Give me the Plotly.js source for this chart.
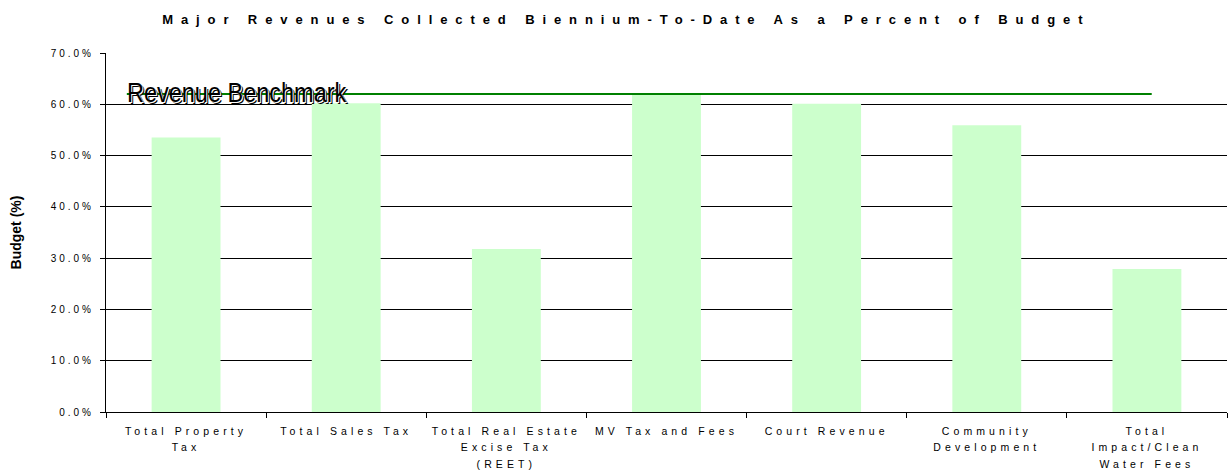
<!DOCTYPE html>
<html>
<head>
<meta charset="utf-8">
<script src="https://cdn.plot.ly/plotly-3.0.1.min.js"></script>
<style>
  html, body { margin: 0; padding: 0; background: #fff; }
  #chart { width: 1228px; height: 474px; }
  .gtitle { letter-spacing: 7.9px; }
  .xtick text { letter-spacing: 4.1px; }
  .ytick text { letter-spacing: 3px; }
  .annotation-text { transform-box: fill-box; transform-origin: 0% 50%; transform: scaleX(0.87); }
</style>
</head>
<body>
<div id="chart"></div>
<script>
// ---- data ----
const categories = [
  "Total Property<br>Tax",
  "Total Sales Tax",
  "Total Real Estate<br>Excise Tax<br>(REET)",
  "MV Tax and Fees",
  "Court Revenue",
  "Community<br>Development",
  "Total<br>Impact/Clean<br>Water Fees"
];
const percentOfBudget = [53.5, 60.2, 31.8, 61.9, 60.1, 55.9, 27.9];
const benchmarkValue = 62.0;
const benchmarkLabel = "Revenue Benchmark";
const chartTitle = "Major Revenues Collected Biennium-To-Date As a Percent of Budget";
const yTitle = "Budget (%)";

const FONT = "Liberation Sans, Arial, sans-serif";

const bars = {
  type: "bar",
  x: categories,
  y: percentOfBudget,
  width: 0.43,
  marker: { color: "#CCFFCC", line: { width: 0 } },
  hoverinfo: "x+y",
  showlegend: false
};

const labelAnn = (dx, dy, color) => ({
  xref: "x", yref: "y",
  x: -0.37, y: benchmarkValue,
  xanchor: "left", yanchor: "middle",
  xshift: dx, yshift: dy,
  showarrow: false,
  text: benchmarkLabel,
  font: { family: FONT, size: 27, color: color }
});

const layout = {
  width: 1228, height: 474,
  margin: { l: 106, r: 1, t: 53, b: 62, pad: 0 },
  paper_bgcolor: "#ffffff",
  plot_bgcolor: "#ffffff",
  showlegend: false,
  title: {
    text: "<b>" + chartTitle + "</b>",
    font: { family: FONT, size: 13, color: "#000" },
    x: 0.51, xref: "container", xanchor: "center",
    y: 0.96, yref: "container", yanchor: "middle"
  },
  xaxis: {
    type: "category",
    range: [-0.5, 6.5],
    tickson: "boundaries",
    ticks: "outside", ticklen: 5, tickwidth: 1, tickcolor: "#000",
    ticklabelstandoff: 9,
    showline: true, linecolor: "#000", linewidth: 1,
    showgrid: false, zeroline: false,
    tickfont: { family: FONT, size: 10.5, color: "#000" },
    automargin: false
  },
  yaxis: {
    range: [0, 70],
    dtick: 10, tick0: 0,
    tickformat: ".1f", ticksuffix: "%",
    ticks: "outside", ticklen: 5, tickwidth: 1, tickcolor: "#000",
    ticklabelstandoff: 4,
    showline: true, linecolor: "#000", linewidth: 1,
    showgrid: true, gridcolor: "#000", gridwidth: 1,
    zeroline: false,
    tickfont: { family: FONT, size: 10, color: "#000" },
    title: { text: "<b>" + yTitle + "</b>", font: { family: FONT, size: 14, color: "#000" }, standoff: 25 },
    automargin: false
  },
  shapes: [{
    type: "line", xref: "x", yref: "y",
    x0: -0.37, x1: 6.03, y0: benchmarkValue, y1: benchmarkValue,
    line: { color: "#008000", width: 2 },
    layer: "above"
  }],
  annotations: [
    labelAnn(0, 0, "#000"),
    labelAnn(-1, 1, "#fff"),
    labelAnn(-2, 2, "#000")
  ]
};

Plotly.newPlot("chart", [bars], layout, { displayModeBar: false, staticPlot: true }).then(function () {
  // widen the line spacing of multi-line category labels
  document.querySelectorAll(".xtick text").forEach(function (t) {
    t.querySelectorAll("tspan.line").forEach(function (ts) {
      const dy = ts.getAttribute("dy");
      if (dy && dy.indexOf("em") > 0) {
        const v = parseFloat(dy);
        ts.setAttribute("dy", (v / 1.3 * 1.58) + "em");
      }
    });
  });
});
</script>
</body>
</html>
